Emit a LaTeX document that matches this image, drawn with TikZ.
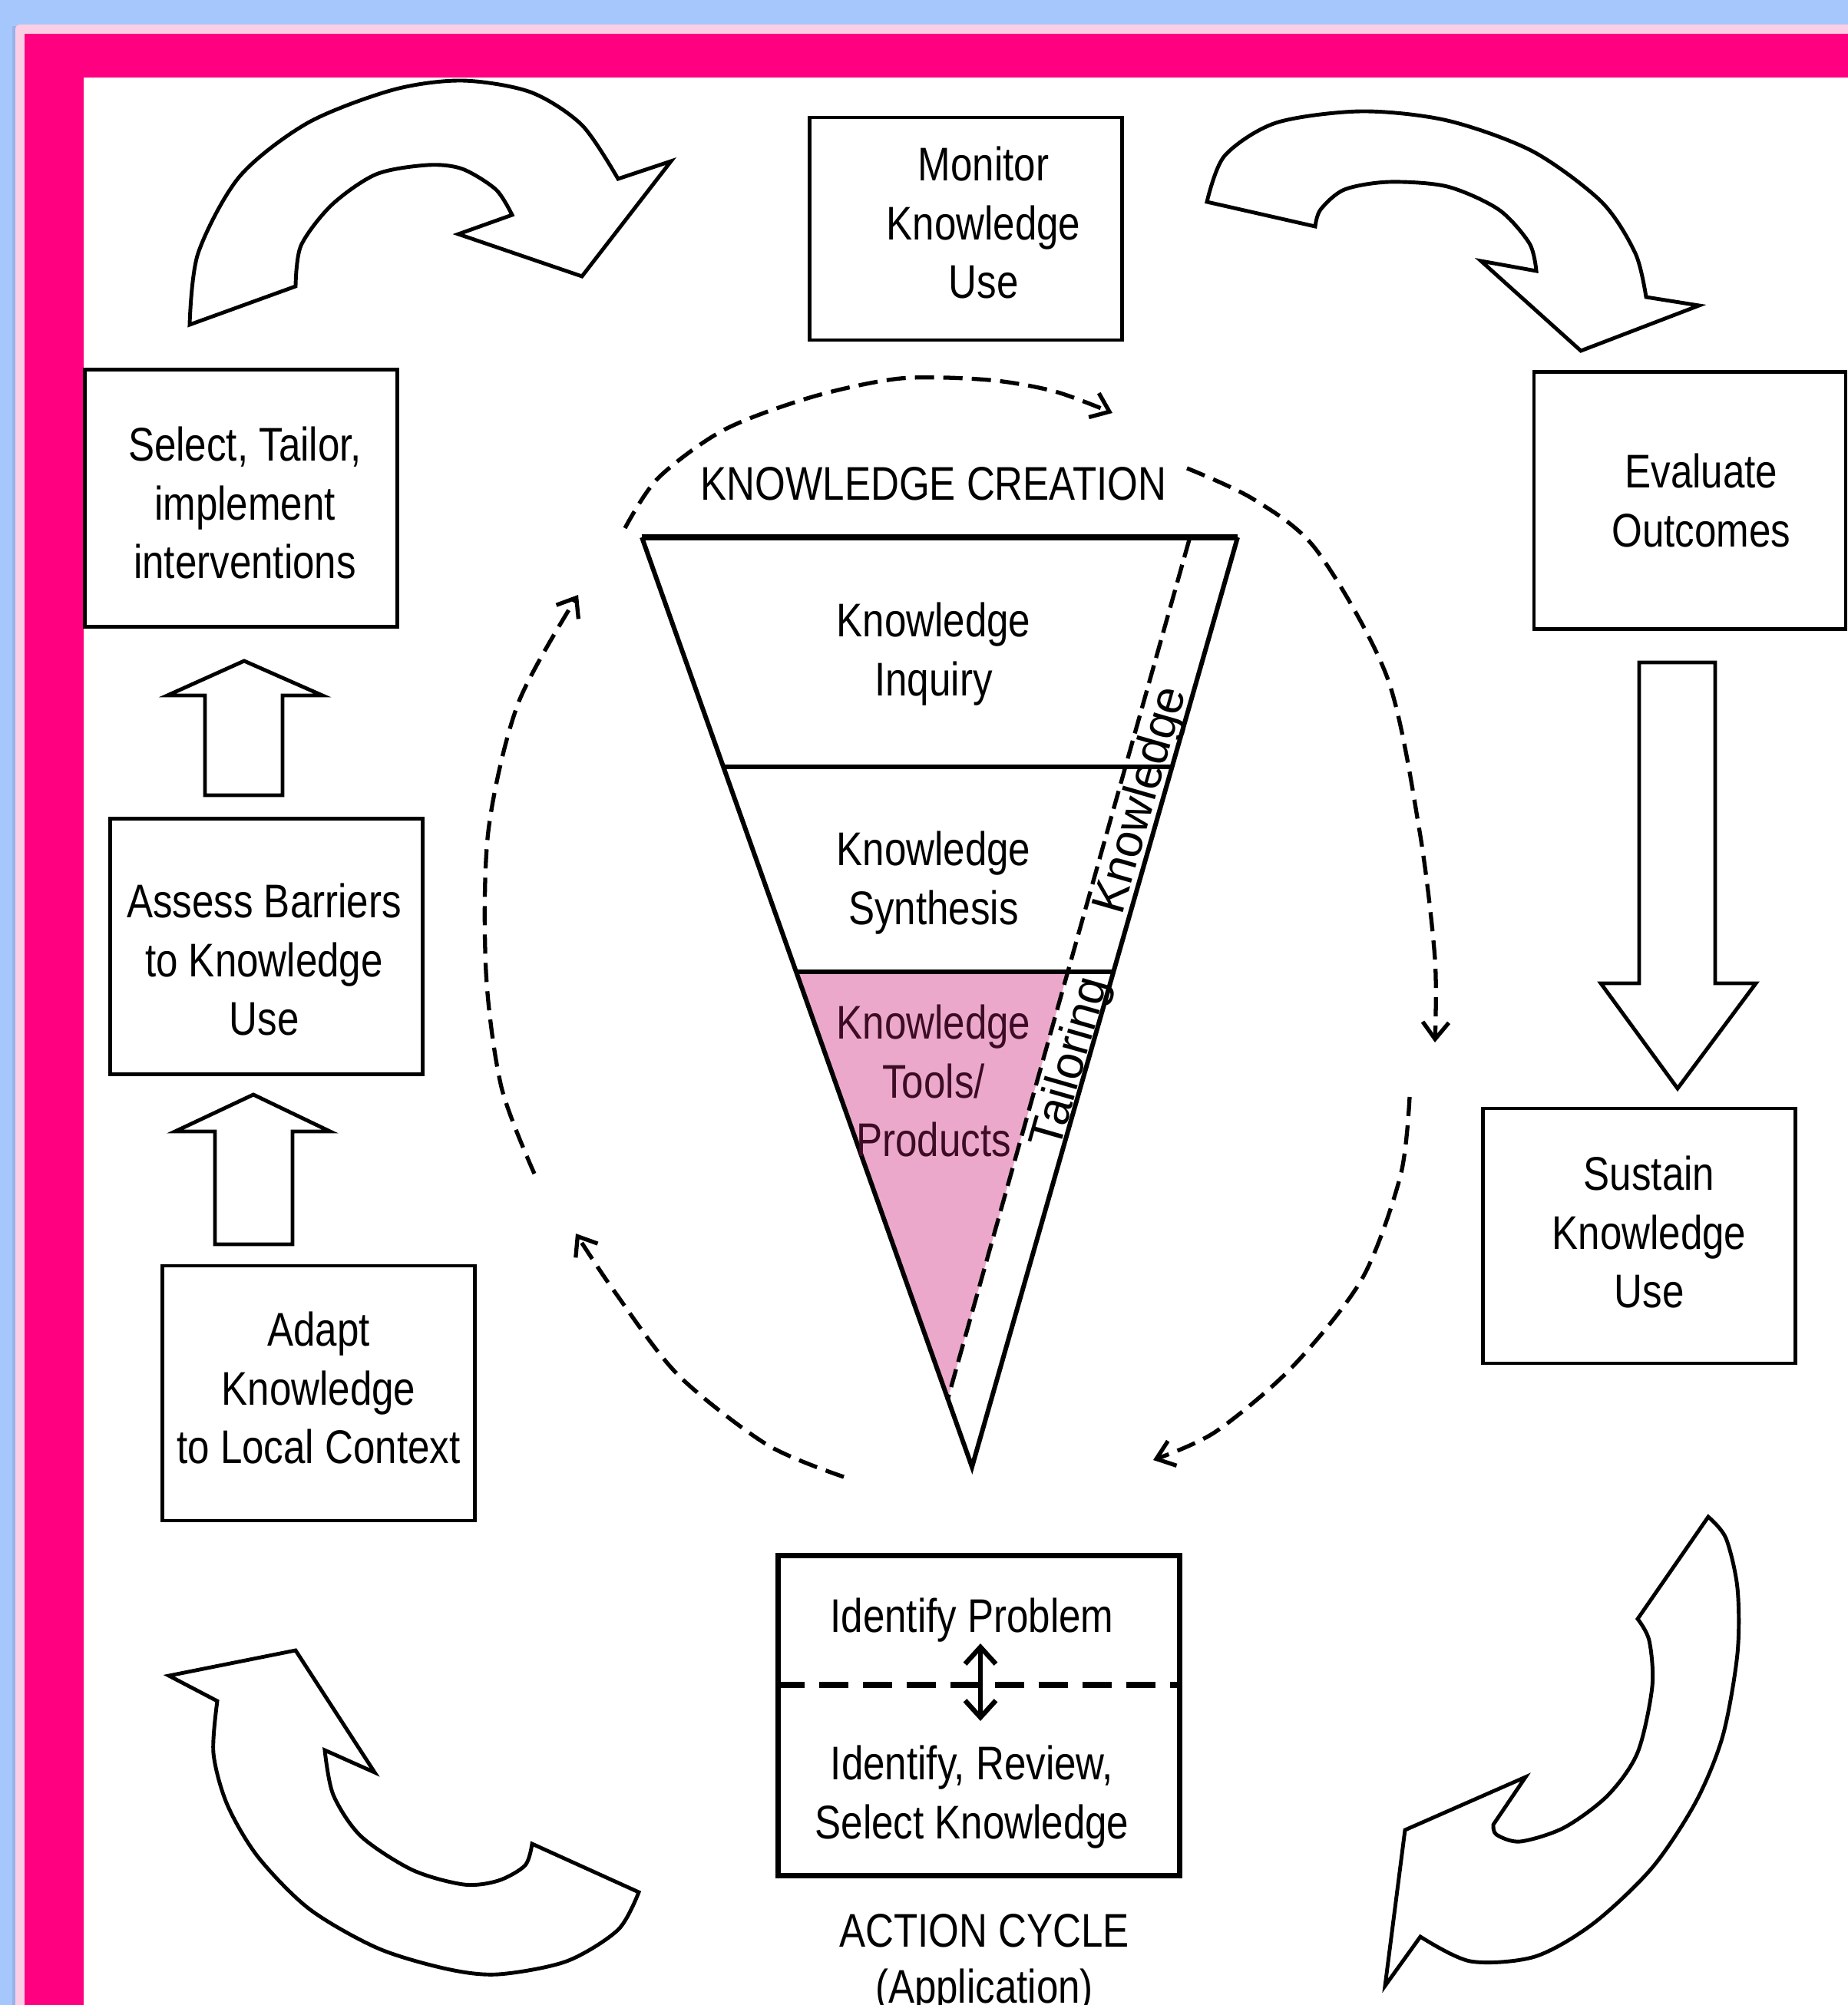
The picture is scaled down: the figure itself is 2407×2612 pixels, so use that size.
\documentclass[tikz,border=0pt]{standalone}
\usepackage{fontspec}
\setmainfont{Liberation Sans}[FakeStretch=0.83]
\newfontfamily\rotfont{Liberation Sans}
\usetikzlibrary{arrows.meta,calc}

\definecolor{skyblue}{RGB}{166,199,252}
\definecolor{skyshade}{RGB}{150,180,236}
\definecolor{palepink}{RGB}{252,206,230}
\definecolor{framepink}{RGB}{255,0,128}
\definecolor{toolpink}{RGB}{236,168,202}
\definecolor{tooltext}{RGB}{60,12,36}

\begin{document}
\begin{tikzpicture}[x=0.01cm, y=-0.01cm,
    every node/.style={font=\fontsize{17.5pt}{21.8pt}\selectfont, align=center, inner sep=0pt},
    stepbox/.style={draw, line width=1.3pt, minimum width=4.07cm, minimum height=3.33cm},
    loopdash/.style={line width=1.5pt, dash pattern=on 0.25cm off 0.12cm, -{Straight Barb[length=2.2mm, width=3.4mm]}},
    blockarrow/.style={draw, line width=1.4pt, fill=white, line join=miter}]

    % Frame
    \useasboundingbox (0,0) rectangle (2407,2612);
    \clip (0,0) rectangle (2407,2612);
    \fill[skyblue] (0,0) rectangle (2407,2612);
    \fill[skyshade] (16,34) rectangle (21,2612);
    \fill[palepink, rounded corners=0.06cm] (20,32) rectangle (2460,2680);
    \fill[framepink] (32,44) rectangle (2407,2612);
    \fill[white] (109,101) rectangle (2407,2612);

    % Boxes
    \node[stepbox, minimum height=2.9cm] (monitor) at (1258,298) {};
    \node[stepbox, minimum height=3.35cm] (select) at (314,649) {};
    \node[stepbox, minimum height=3.35cm, minimum width=4.06cm] (evaluate) at (2201,652) {};
    \node[stepbox] (assess) at (347,1233) {};
    \node[stepbox, minimum height=3.32cm] (sustain) at (2135,1610) {};
    \node[stepbox, minimum height=3.32cm] (adapt) at (415,1815) {};
    \node (monitor-txt) at (1281,290) {Monitor\\Knowledge\\Use};
    \node (select-txt) at (319,655) {Select, Tailor,\\implement\\interventions};
    \node (evaluate-txt) at (2216,652) {Evaluate\\Outcomes};
    \node (assess-txt) at (344,1250) {Assess Barriers\\to Knowledge\\Use};
    \node (sustain-txt) at (2148,1605) {Sustain\\Knowledge\\Use};
    \node (adapt-txt) at (415,1808) {Adapt\\Knowledge\\to Local Context};

    % Straight block arrows
    \draw[blockarrow] (267,1036) -- (267,906) -- (218,906) -- (318,861) -- (420,906) -- (368,906) -- (368,1036) -- cycle;
    \draw[blockarrow] (280,1621) -- (280,1474) -- (228,1474) -- (330,1426) -- (430,1474) -- (381,1474) -- (381,1621) -- cycle;
    \draw[blockarrow] (2135,863) -- (2135,1281) -- (2085,1281) -- (2185,1418) -- (2287,1281) -- (2234,1281) -- (2234,863) -- cycle;

    % Curved block arrows
    \draw[blockarrow] plot[smooth] coordinates {(247,423) (258,330) (312,230) (401,160) (512,117) (602,105) (691,120) (758,163) (805,233)}
        -- (874,210) -- (758,360) -- (597,305) -- (667,280)
        -- plot[smooth] coordinates {(667,280) (646,247) (602,220) (557,215) (490,227) (432,267) (392,320) (385,373)} -- cycle;
    \draw[blockarrow] plot[smooth] coordinates {(1572,263) (1595,203) (1662,160) (1773,145) (1885,157) (1996,197) (2086,263) (2130,330) (2144,387)}
        -- (2213,398) -- (2059,457) -- (1929,340) -- (2001,353)
        -- plot[smooth] coordinates {(2001,353) (1992,317) (1952,273) (1885,243) (1809,237) (1751,247) (1720,273) (1713,295)} -- cycle;
    \draw[blockarrow] (283,2216) -- (220,2183) -- (385,2150) -- (488,2309) -- (423,2280)
        -- plot[smooth] coordinates {(423,2280) (434,2338) (470,2392) (537,2436) (604,2455) (649,2450) (684,2430) (693,2402)}
        -- plot[smooth] coordinates {(832,2465) (805,2514) (738,2555) (649,2572) (582,2565) (492,2538) (403,2487) (336,2419) (296,2351) (278,2284) (283,2216)} -- cycle;
    \draw[blockarrow] plot[smooth] coordinates {(2225,1976) (2248,2004) (2263,2069) (2263,2154) (2244,2261) (2209,2347) (2152,2433) (2075,2506) (1999,2549) (1915,2555) (1850,2523)}
        -- (1804,2587) -- (1830,2384) -- (1987,2315) -- (1945,2377)
        -- plot[smooth] coordinates {(1945,2377) (1949,2390) (1980,2399) (2037,2381) (2094,2339) (2133,2283) (2152,2197) (2148,2137) (2133,2109)} -- cycle;

    % Funnel
    \coordinate (ftl) at (836,700);
    \coordinate (ftr) at (1612,700);
    \coordinate (fapex) at (1266,1911);
    \coordinate (dtop) at (1549,703);
    \coordinate (papex) at (1234,1824);
    \coordinate (l1) at ($(ftl)!0.2469!(fapex)$);
    \coordinate (r1) at ($(ftr)!0.2469!(fapex)$);
    \coordinate (l2) at ($(ftl)!0.4674!(fapex)$);
    \coordinate (r2) at ($(ftr)!0.4674!(fapex)$);
    \coordinate (d2) at ($(dtop)!0.502!(papex)$);
    \fill[toolpink] (l2) -- (d2) -- (papex) -- cycle;
    \draw[line width=1.7pt] (ftl) -- (fapex) -- (ftr);
    \draw[line width=2.2pt] (ftl) -- (ftr);
    \draw[line width=1.5pt] (l1) -- (r1);
    \draw[line width=1.5pt] (l2) -- (r2);
    \draw[line width=1.5pt, dash pattern=on 0.24cm off 0.1cm] (dtop) -- (papex);

    % Funnel labels
    \node (creation) at (1216,630) {KNOWLEDGE CREATION};
    \node (inquiry) at (1216,852) {Knowledge\\Inquiry};
    \node (synthesis) at (1216,1150) {Knowledge\\Synthesis};
    \node[text=tooltext] (tools) at (1216,1408) {Knowledge\\Tools/\\Products};
    \node[rotate=74, font=\rotfont\fontsize{17.5pt}{21pt}\selectfont] (kstrip) at (1488,1043) {Knowledge};
    \node[rotate=74, font=\rotfont\fontsize{17.5pt}{21pt}\selectfont] (tstrip) at (1396,1385) {Tailoring};

    % Cycle arrows
    \coordinate (c1s) at (814,688);  \coordinate (c1e) at (1449,538);
    \coordinate (c2s) at (1546,610); \coordinate (c2e) at (1869,1358);
    \coordinate (c3s) at (1836,1429); \coordinate (c3e) at (1502,1902);
    \coordinate (c4s) at (1099,1924); \coordinate (c4e) at (750,1607);
    \coordinate (c5s) at (696,1529);  \coordinate (c5e) at (753,775);
    \draw[loopdash] plot[smooth] coordinates {(c1s) (857,623) (943,560) (1058,517) (1173,493) (1288,495) (1374,510) (c1e)};
    \draw[loopdash] plot[smooth] coordinates {(c2s) (1632,650) (1715,717) (1807,883) (1849,1083) (1869,1249) (c2e)};
    \draw[loopdash] plot[smooth] coordinates {(c3s) (1824,1532) (1774,1666) (1682,1782) (1582,1866) (c3e)};
    \draw[loopdash] plot[smooth] coordinates {(c4s) (999,1882) (883,1791) (800,1682) (c4e)};
    \draw[loopdash] plot[smooth] coordinates {(c5s) (653,1416) (633,1266) (636,1083) (675,916) (c5e)};

    % Action cycle
    \node[draw, line width=2pt, minimum width=5.22cm, minimum height=4.17cm] (action) at (1275,2235) {};
    \coordinate (split) at (1275,2195);
    \draw[line width=2.2pt, dash pattern=on 0.38cm off 0.19cm] (action.west |- split) -- (action.east |- split);
    \node (problem) at (1266,2111) {Identify Problem};
    \node (review) at (1266,2341) {Identify, Review,\\Select Knowledge};
    \coordinate (swapup) at (1277,2141);
    \coordinate (swapdn) at (1277,2242);
    \draw[line width=1.8pt, {Straight Barb[length=2.2mm, width=4mm]}-{Straight Barb[length=2.2mm, width=4mm]}] (swapup) -- (swapdn);
    \node[anchor=base] (actlabel) at (1282,2536) {ACTION CYCLE};
    \node[anchor=base] (applabel) at (1282,2609) {(Application)};
\end{tikzpicture}
\end{document}
